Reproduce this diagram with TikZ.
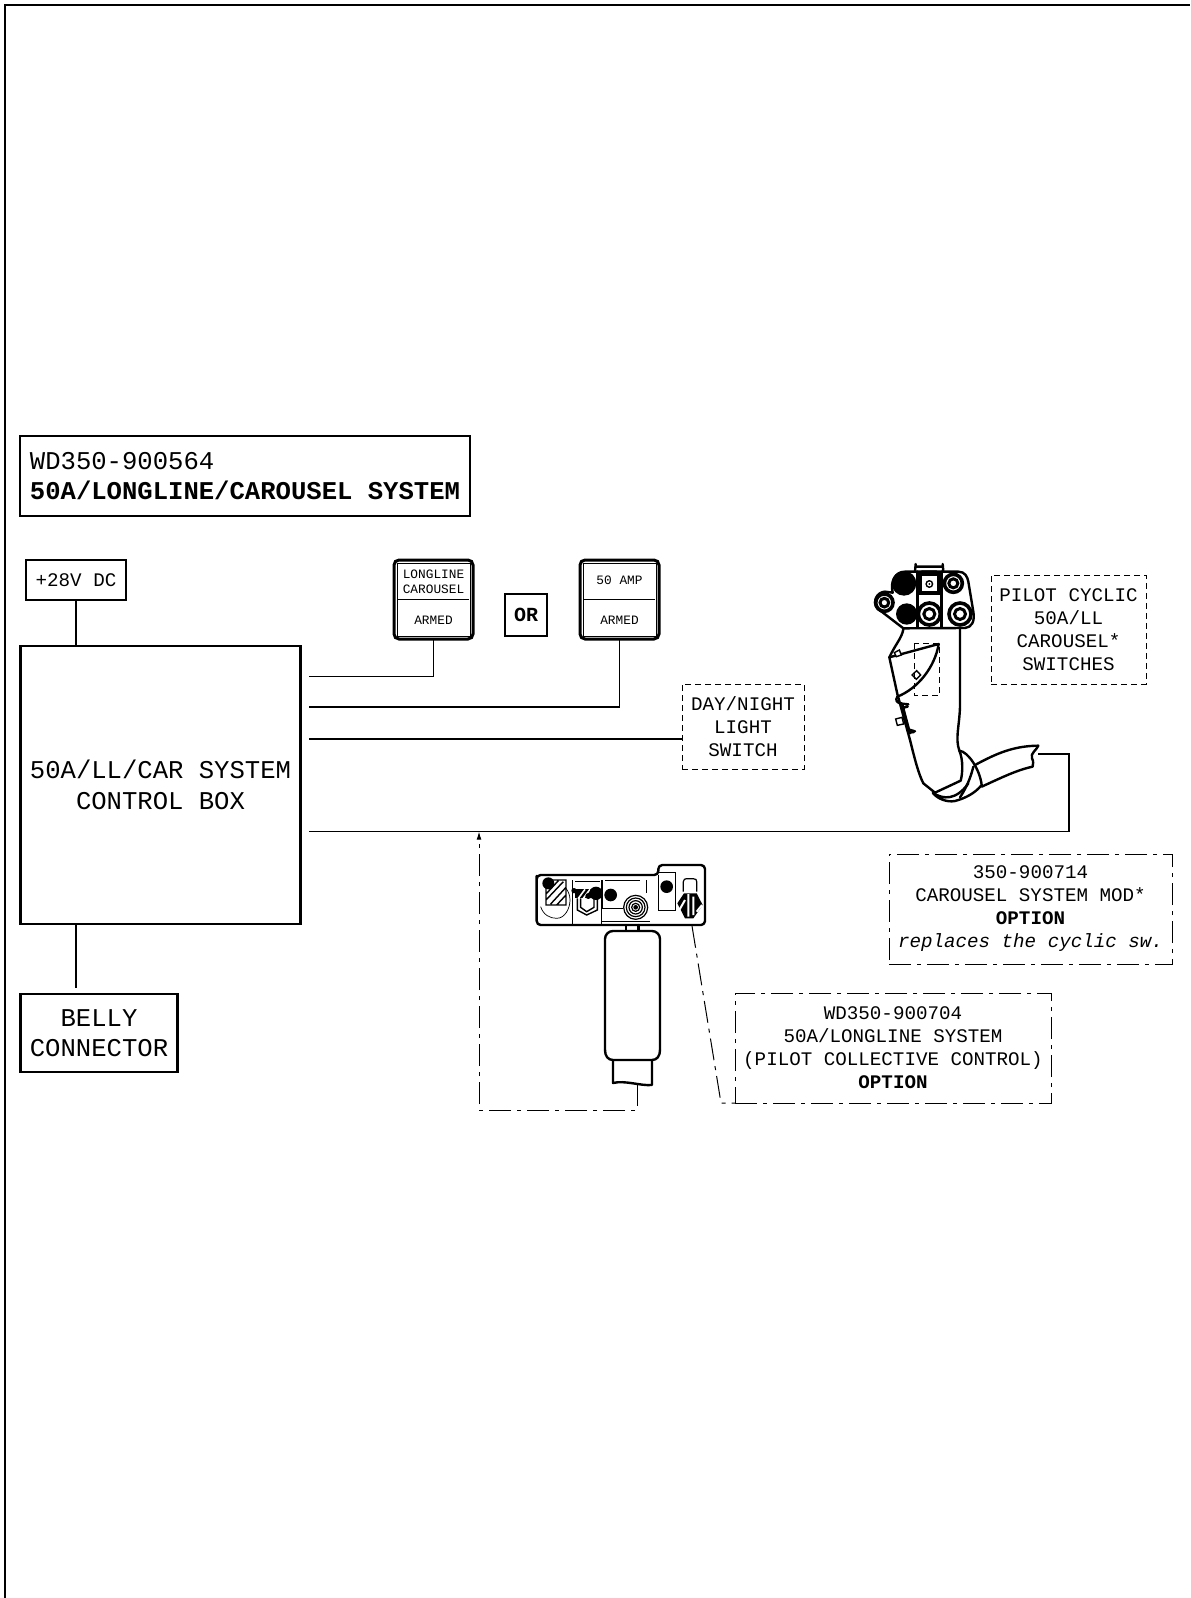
\documentclass[tikz,border=0pt]{standalone}
\usepackage{fontspec}
\setmonofont{Liberation Mono}
\usepackage{xcolor}
\usetikzlibrary{positioning,arrows.meta}

\begin{document}
\begin{tikzpicture}[
  x=0.5pt,
  y=-0.5pt,
  font=\ttfamily,
  >={Latex[length=4pt,width=2.4pt]},
  bigtext/.style={font=\ttfamily\fontsize{12.8}{15.2}\selectfont,align=center},
  midtext/.style={font=\ttfamily\fontsize{9.6}{11.5}\selectfont,align=center},
  lamptext/.style={font=\ttfamily\fontsize{6.4}{7.6}\selectfont,align=center,inner sep=0pt},
  heavybox/.style={draw,line width=1.3pt,outer sep=0pt,inner sep=0pt},
  thinbox/.style={draw,line width=0.6pt,outer sep=0pt,inner sep=0pt},
  lampbox/.style={draw,line width=1.5pt,rounded corners=2.5pt,outer sep=0pt,minimum width=39.5pt,minimum height=39.5pt},
  dashbox/.style={draw,line width=0.5pt,dash pattern=on 3pt off 2pt,outer sep=0pt,inner sep=0pt},
  dotbox/.style={draw,line width=0.5pt,dash pattern=on 11pt off 3pt on 2pt off 3pt,outer sep=0pt,inner sep=0pt},
  wire/.style={line width=0.65pt},
  dotwire/.style={line width=0.5pt,dash pattern=on 11pt off 3pt on 2pt off 3pt},
  sketch/.style={line width=1.2pt,line join=round,line cap=round},
  fineline/.style={line width=0.35pt}
]
\useasboundingbox (0,0) rectangle (1190,1598);
\draw[line width=1pt] (5,1598) -- (5,5) -- (1190,5);

\node[heavybox,bigtext,align=left,minimum width=225pt,minimum height=40pt] (title) at (245,476) {WD350-900564\\\textbf{50A/LONGLINE/CAROUSEL SYSTEM}};
\node[thinbox,midtext,minimum width=50pt,minimum height=20pt] (plusdc) at (76,580) {+28V DC};
\node[heavybox,bigtext,minimum width=140pt,minimum height=139pt] (ctrl) at (160.5,785) {50A/LL/CAR SYSTEM\\CONTROL BOX};
\node[heavybox,bigtext,minimum width=78.5pt,minimum height=39pt,below right=35pt and 0pt of ctrl.south west] (belly) {BELLY\\CONNECTOR};

\node[lampbox] (lampll) at (433.5,599.5) {};
\node[lampbox,right=53.5pt of lampll] (lampamp) {};
\node[thinbox,minimum width=21pt,minimum height=21pt,font=\ttfamily\bfseries\fontsize{10}{12}\selectfont] (orbox) at (526,615) {OR};
\foreach \lamp in {lampll,lampamp} {
  \draw[fineline] ([shift={(3,3)}]\lamp.north west) rectangle ([shift={(-3,-3)}]\lamp.south east);
  \draw[line width=0.5pt] ([xshift=2pt,yshift=-19.7pt]\lamp.north west) -- ([xshift=-2pt,yshift=-19.7pt]\lamp.north east);
  \node[lamptext] (\lamp armed) at ([yshift=9.4pt]\lamp.south) {ARMED};
}
\node[lamptext] (lltext) at ([yshift=-10.8pt]lampll.north) {LONGLINE\\CAROUSEL};
\node[lamptext] (amptext) at ([yshift=-10pt]lampamp.north) {50 AMP};

\node[dashbox,midtext,minimum width=61pt,minimum height=42.5pt] (daynight) at (743,726.5) {DAY/NIGHT\\LIGHT\\SWITCH};
\node[dashbox,midtext,minimum width=77.5pt,minimum height=54.5pt] (pilot) at (1068.5,629.5) {PILOT CYCLIC\\50A/LL\\CAROUSEL*\\SWITCHES};
\node[dotbox,midtext,minimum width=141.5pt,minimum height=55pt] (carmod) at (1030.5,909) {350-900714\\CAROUSEL SYSTEM MOD*\\\textbf{OPTION}\\\textit{replaces the cyclic sw.}};
\node[dotbox,midtext,minimum width=158pt,minimum height=55pt] (wdopt) at (893,1048) {WD350-900704\\50A/LONGLINE SYSTEM\\(PILOT COLLECTIVE CONTROL)\\\textbf{OPTION}};

\coordinate (llstart) at (309,676.5);
\coordinate (ampstart) at (309,707);
\coordinate (nightstart) at (309,739);
\coordinate (busstart) at (309,831.5);
\coordinate (buscorner) at (1069,754);
\coordinate (cabletip) at (1038,754);
\coordinate (bellystub) at (76,988);
\coordinate (collstem) at (637,1084);
\coordinate (collfoot) at (637,1110);
\coordinate (busjoin) at (479,831.5);
\coordinate (leadtop) at (692,926);
\coordinate (leadfoot) at (721,1103);

\draw[wire] (plusdc) -- (plusdc |- ctrl.north);
\draw[wire] (plusdc |- ctrl.south) -- (bellystub);
\draw[wire] (llstart) -| (lampll.south);
\draw[wire] (ampstart) -| (lampamp.south);
\draw[wire] (nightstart) -- (daynight.west |- nightstart);
\draw[wire] (busstart) -| (buscorner) -- (cabletip);
\draw[dotwire,->] (collstem) -- (collfoot) -| (busjoin);
\draw[dotwire] (leadtop) -- (leadfoot) -- (wdopt.south west);

% pilot cyclic grip
\begin{scope}[shift={(840,540)},scale=1/3]
  \draw[sketch] (190,265) -- (112,205) .. controls (95,185) and (112,155) .. (135,155) -- (158,158) .. controls (150,125) and (165,95) .. (195,95) -- (355,95) .. controls (375,95) and (382,110) .. (385,125) -- (400,215) .. controls (405,245) and (395,262) .. (375,264) -- cycle;
  \fill (192,130) circle (37);
  \fill (200,222) circle (32);
  \draw[sketch] (232,95) -- (232,262) (305,95) -- (305,262);
  \fill (232,95) rectangle (305,165);
  \fill[white] (246,108) rectangle (292,152);
  \draw[sketch] (225,95) -- (227,72) (310,95) -- (308,72) (227,80) -- (308,80) (245,95) -- (290,95);
  \foreach \ringx/\ringy/\ringr in {133/188/26,340/130/27,268/222/33,360/222/33} {
    \draw[line width=1.8pt] (\ringx,\ringy) circle (\ringr);
    \draw[line width=1.5pt] (\ringx,\ringy) circle (\ringr*0.5);
  }
  \fill (268,132) circle (12);
  \fill[white] (268,132) circle (7);
  \fill (268,132) circle (3);
  \draw[sketch] (190,268) .. controls (185,295) and (165,315) .. (148,352) -- (172,462) -- (210,600) .. controls (225,660) and (235,700) .. (250,730) -- (285,758);
  \draw[sketch] (360,265) -- (360,500) .. controls (358,560) and (345,595) .. (358,632);
  \draw[sketch] (148,352) -- (296,312) .. controls (285,380) and (235,445) .. (172,470) .. controls (165,480) and (170,490) .. (185,490);
  \draw[sketch] (185,491) -- (205,493) (190,503) -- (203,500) (205,568) -- (225,574) (208,578) -- (222,576) (186,490) -- (210,580);
  \draw[line width=0.7pt,fill=white] (163,338) -- (178,330) -- (184,345) -- (169,350) -- cycle;
  \draw[line width=0.7pt,fill=white] (216,405) -- (230,392) -- (242,405) -- (229,418) -- cycle;
  \draw[line width=0.7pt,fill=white] (167,537) -- (186,532) -- (191,552) -- (172,556) -- cycle;
  \draw[dashbox] (223,310) rectangle (298,467);
  \draw[sketch] (358,632) .. controls (385,635) and (420,690) .. (425,735) .. controls (405,760) and (375,775) .. (345,783) .. controls (320,788) and (290,775) .. (278,758) .. controls (310,780) and (350,780) .. (385,730);
  \draw[sketch] (358,632) .. controls (370,660) and (368,700) .. (362,722) -- (285,758);
  \draw[sketch] (405,675) .. controls (470,640) and (520,618) .. (595,617) .. controls (590,630) and (570,640) .. (576,655) .. controls (582,665) and (578,672) .. (578,680) .. controls (530,690) and (480,715) .. (425,740);
  \draw[sketch] (400,680) .. controls (395,700) and (385,735) .. (360,772);
\end{scope}

% collective switch box
\begin{scope}[shift={(520,850)},scale=1/3]
  \draw[sketch,rounded corners=2pt] (50,90) -- (50,75) -- (415,75) -- (415,45) -- (555,45) -- (555,225) -- (50,225) -- cycle;
  \draw[fineline] (62,170) .. controls (70,195) and (90,205) .. (110,205) .. controls (135,205) and (150,175) .. (150,150) .. controls (150,135) and (145,125) .. (138,115);
  \draw[line width=0.7pt] (78,90) -- (138,90) -- (138,165) -- (78,165) -- cycle (78,150) -- (130,95) (92,162) -- (138,112) (78,132) -- (115,92) (110,165) -- (138,135);
  \fill (85,100) circle (18);
  \draw[fineline] (158,90) -- (158,225) (243,90) -- (243,225) (165,95) -- (240,95);
  \draw[line width=0.7pt] (172,145) -- (172,180) -- (200,195) -- (232,180) -- (232,145);
  \draw[line width=0.7pt] (182,145) -- (182,172) -- (200,185) -- (222,172) -- (222,145);
  \fill (165,118) rectangle (240,145);
  \draw[white,line width=0.8pt] (175,145) -- (195,118) (190,145) -- (210,118) (205,145) -- (220,125);
  \fill (162,122) circle (8);
  \fill (228,130) circle (20);
  \fill (205,138) circle (9);
  \fill (272,135) circle (19);
  \draw[fineline] (248,90) -- (248,175) -- (310,175) (255,90) -- (360,90) (378,90) -- (378,130) (245,215) -- (390,215);
  \foreach \grillr in {36,28,20,12} {
    \draw[line width=0.6pt] (347,172) circle (\grillr);
  }
  \fill (347,172) circle (7);
  \draw[fineline] (415,68) -- (465,68) -- (465,180) -- (415,180) -- (415,75);
  \fill (440,110) circle (19);
  \draw[line width=0.6pt] (490,125) -- (490,95) .. controls (490,88) and (495,86) .. (500,86) -- (520,86) .. controls (528,86) and (530,90) .. (530,95) -- (530,125);
  \fill (472,160) -- (492,130) -- (530,130) -- (548,165) -- (520,205) -- (495,205) -- cycle;
  \draw[white,line width=1pt] (505,132) -- (505,200) (520,140) -- (520,195) (475,185) -- (495,150) (530,185) -- (546,165);
  \draw[sketch] (318,225) -- (318,240) (355,225) -- (355,240);
\end{scope}

% collective grip
\draw[sketch,rounded corners=4pt] (605,1050) -- (605,931) -- (660,931) -- (660,1050);
\draw[sketch] (605,1050) .. controls (605,1056) and (608,1060) .. (613,1060) -- (652,1060) .. controls (657,1060) and (660,1056) .. (660,1050);
\draw[sketch] (613,1060) -- (613,1083) .. controls (625,1080) and (640,1086) .. (652,1085) -- (652,1060);
\end{tikzpicture}
\end{document}
